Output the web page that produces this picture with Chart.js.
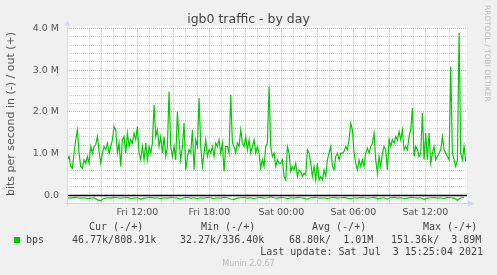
<!DOCTYPE html>
<html>
<head>
<meta charset="utf-8">
<script src="https://cdn.jsdelivr.net/npm/chart.js@4/dist/chart.umd.min.js"></script>
<style>
  html, body { margin: 0; padding: 0; background: #f0f0f0; }
  canvas { display: block; }
</style>
</head>
<body>
<canvas id="grafico" width="497" height="275"></canvas>
<script>
// 1. Datos (en M bits/s)
// out (+): un punto cada 500 s desde Fri 06:10
const outValues = [
  0.85,0.93,0.69,0.65,1.01,1.33,1.57,1.01,0.69,0.65,
  0.85,0.77,0.93,0.77,1.17,1.01,1.17,1.21,1.41,1.05,
  0.77,1.01,1.17,1.09,1.25,1.01,1.17,1.33,1.65,1.57,
  1.01,1.25,0.69,1.33,1.41,1.01,1.49,1.17,1.33,1.25,
  1.49,1.33,1.65,1.01,0.85,1.17,0.85,1.25,0.85,1.17,
  1.01,1.25,2.17,1.41,1.57,1.17,1.41,1.01,1.41,0.93,
  1.17,2.49,1.17,0.93,1.17,0.85,2.01,1.33,0.85,1.17,
  1.73,0.61,0.93,1.09,1.01,1.57,0.61,1.33,1.17,2.33,
  1.17,0.69,1.01,1.33,0.93,1.09,1.01,1.17,0.93,1.25,
  1.17,1.33,1.01,1.25,0.57,1.17,1.17,1.01,2.41,1.25,
  1.17,1.01,1.25,1.17,1.57,1.25,1.17,1.41,1.09,1.33,
  1.01,1.17,1.33,1.01,1.17,1.01,0.65,0.85,0.69,1.17,
  1.25,2.61,1.17,0.93,1.01,0.69,0.85,0.77,0.77,
  0.85,0.45,0.37,1.17,1.01,0.57,0.69,0.61,0.77,0.45,
  0.61,0.57,0.45,0.53,0.49,1.09,1.01,0.77,0.45,0.69,
  0.37,0.77,0.37,0.45,0.37,0.61,0.45,0.85,1.01,1.17,
  0.69,0.61,0.93,1.01,0.85,1.01,1.01,1.05,1.17,1.09,
  1.33,1.73,1.57,1.01,0.77,0.61,0.85,0.69,0.85,0.69,
  1.01,1.13,1.01,1.17,1.25,1.49,0.85,0.53,0.93,0.69,
  1.01,1.17,1.09,0.61,1.33,1.17,1.33,1.25,1.41,1.33,
  1.53,1.33,1.57,1.09,1.17,1.09,1.41,1.57,2.09,0.93,
  1.17,1.09,0.93,1.01,1.97,0.85,1.49,0.85,1.49,0.77,
  1.01,1.17,0.85,0.93,1.01,1.09,1.41,1.09,1.01,0.93,
  0.85,3.09,1.01,0.85,0.69,0.85,3.89,1.01,0.85,1.17,
  0.81
];
// in (-): un punto cada 1000 s desde Fri 06:10
const inValues = [
  -0.06,-0.07,-0.05,-0.06,-0.07,-0.06,-0.08,-0.07,-0.06,-0.11,-0.13,-0.08,-0.06,-0.07,-0.05,-0.06,-0.07,-0.06,-0.05,-0.08,
  -0.07,-0.06,-0.09,-0.07,-0.06,-0.05,-0.07,-0.06,-0.08,-0.06,-0.07,-0.05,-0.06,-0.07,-0.09,-0.06,-0.05,-0.07,-0.06,-0.08,
  -0.06,-0.07,-0.05,-0.06,-0.08,-0.06,-0.07,-0.05,-0.06,-0.09,-0.10,-0.07,-0.06,-0.05,-0.07,-0.06,-0.08,-0.06,-0.05,-0.07,
  -0.06,-0.04,-0.06,-0.07,-0.05,-0.06,-0.08,-0.06,-0.07,-0.05,-0.06,-0.07,-0.09,-0.06,-0.05,-0.06,-0.07,-0.06,-0.08,-0.06,
  -0.05,-0.07,-0.06,-0.05,-0.07,-0.08,-0.06,-0.07,-0.05,-0.06,-0.07,-0.06,-0.05,-0.08,-0.07,-0.06,-0.09,-0.06,-0.05,-0.07,
  -0.06,-0.08,-0.07,-0.05,-0.06,-0.07,-0.06,-0.10,-0.07,-0.06,-0.05,-0.07,-0.06,-0.08,-0.05,-0.06,-0.07,-0.12,-0.06,-0.05
];
const startMin  = 370;       // Fri 06:10 en minutos desde Fri 00:00
const outStep   = 500 / 60;  // minutos
const inStep    = 1000 / 60;

// ejes
const xTickMinutes = [720, 1080, 1440, 1800, 2160];
const xTickLabels  = ['Fri 12:00', 'Fri 18:00', 'Sat 00:00', 'Sat 06:00', 'Sat 12:00'];
const yTickValues  = [0, 1, 2, 3, 4];
const yTickLabels  = ['0.0', '1.0 M', '2.0 M', '3.0 M', '4.0 M'];

// leyenda
const serieName     = 'bps';
const legendHeaders = ['Cur (-/+)', 'Min (-/+)', 'Avg (-/+)', 'Max (-/+)'];
const legendValues  = ['46.77k/808.91k', '32.27k/336.40k', '68.80k/  1.01M', '151.36k/  3.89M'];
const lastUpdate    = 'Last update: Sat Jul  3 15:25:04 2021';
const titulo        = 'igb0 traffic - by day';
const yTitulo       = 'bits per second in (-) / out (+)';
const marcaAgua     = 'RRDTOOL / TOBI OETIKER';
const pie           = 'Munin 2.0.67';

const VERDE = '#00cc00';
const EJE   = '#cfd6f8';
const GRID_MAYOR = 'rgba(240,140,140,0.75)';
const GRID_MENOR = 'rgba(200,200,200,0.8)';

// 2. Puntos para Chart.js
const outData = outValues.map((v, i) => ({ x: startMin + i * outStep, y: v }));
const inData  = inValues.map((v, i) => ({ x: startMin + i * inStep, y: v }));

function texto(ctx, str, x, y, font, color, align) {
  ctx.font = font;
  ctx.fillStyle = color;
  ctx.textAlign = align || 'left';
  ctx.textBaseline = 'middle';
  ctx.fillText(str, x, y);
}

const esEntero = v => Math.abs(v - Math.round(v)) < 1e-6;

// 3. Plugin con el estilo munin (fondo, ejes, textos)
const muninPlugin = {
  id: 'munin',
  beforeDraw(chart) {
    const { ctx, chartArea: a } = chart;
    ctx.save();
    ctx.fillStyle = '#f0f0f0';
    ctx.fillRect(0, 0, chart.width, chart.height);
    ctx.fillStyle = '#ffffff';
    ctx.fillRect(a.left, a.top - 2, a.right - a.left, a.bottom - a.top + 2);
    ctx.restore();
  },
  beforeDatasetsDraw(chart) {
    const { ctx, chartArea: a } = chart;
    const y0 = Math.round(chart.scales.y.getPixelForValue(0)) + 0.5;
    ctx.save();
    ctx.strokeStyle = '#000';
    ctx.lineWidth = 1.3;
    ctx.beginPath();
    ctx.moveTo(a.left, y0);
    ctx.lineTo(a.right, y0);
    ctx.stroke();
    ctx.restore();
  },
  afterDraw(chart) {
    const { ctx, chartArea: a } = chart;
    ctx.save();
    // ejes con flechas
    const xl = Math.round(a.left) + 0.5;
    const yb = Math.round(a.bottom) - 0.5;
    ctx.strokeStyle = EJE;
    ctx.fillStyle = EJE;
    ctx.lineWidth = 1;
    ctx.beginPath();
    ctx.moveTo(xl, yb + 3);
    ctx.lineTo(xl, a.top - 4);
    ctx.moveTo(xl - 3, yb);
    ctx.lineTo(a.right + 2, yb);
    ctx.stroke();
    ctx.beginPath();
    ctx.moveTo(xl - 3, a.top - 3);
    ctx.lineTo(xl + 3, a.top - 3);
    ctx.lineTo(xl, a.top - 8);
    ctx.closePath();
    ctx.fill();
    ctx.beginPath();
    ctx.moveTo(a.right + 1, yb - 3);
    ctx.lineTo(a.right + 1, yb + 3);
    ctx.lineTo(a.right + 7, yb);
    ctx.closePath();
    ctx.fill();

    // título
    texto(ctx, titulo, chart.width / 2, 19.5, '12.5px "DejaVu Sans"', '#444', 'center');

    // título del eje y
    ctx.save();
    ctx.translate(11, 114);
    ctx.rotate(-Math.PI / 2);
    texto(ctx, yTitulo, 0, 0, '11px "DejaVu Sans"', '#555', 'center');
    ctx.restore();

    // marca de agua
    ctx.save();
    ctx.translate(487, 5);
    ctx.rotate(Math.PI / 2);
    texto(ctx, marcaAgua, 0, 0, '7.5px "DejaVu Sans"', '#bbb', 'left');
    ctx.restore();

    // leyenda
    const mono = '10px "DejaVu Sans Mono"';
    const colH = [89, 201, 312, 423];
    const colV = [72, 180, 289, 391];
    legendHeaders.forEach((h, i) => texto(ctx, h, colH[i], 227.5, mono, '#444'));
    ctx.fillStyle = VERDE;
    ctx.fillRect(14, 237, 6, 6);
    texto(ctx, serieName, 26, 240, mono, '#444');
    legendValues.forEach((v, i) => texto(ctx, v, colV[i], 240, mono, '#444'));
    texto(ctx, lastUpdate, 483, 252, mono, '#444', 'right');
    texto(ctx, pie, chart.width / 2, 264, '8px "DejaVu Sans"', '#bbb', 'center');
    ctx.restore();
  }
};

// 4. Gráfico
new Chart(document.getElementById('grafico').getContext('2d'), {
  type: 'line',
  data: {
    datasets: [
      { label: 'in', data: inData, borderColor: VERDE, borderWidth: 1.2, pointRadius: 0, tension: 0 },
      { label: 'out', data: outData, borderColor: VERDE, borderWidth: 1.2, pointRadius: 0, tension: 0 }
    ]
  },
  options: {
    responsive: false,
    animation: false,
    events: [],
    layout: { padding: { top: 28.5, right: 30, left: 0, bottom: 0 } },
    plugins: { legend: { display: false }, tooltip: { enabled: false }, title: { display: false } },
    scales: {
      x: {
        type: 'linear',
        min: 368,
        max: 2368,
        afterFit: s => { s.height = 71.4; },
        afterBuildTicks: s => { s.ticks = s.ticks.filter(t => t.value % 60 === 0); },
        border: { display: false, dash: [1, 1] },
        grid: {
          drawTicks: false,
          lineWidth: 1,
          color: c => (c.tick && c.tick.value % 180 === 0) ? GRID_MAYOR : GRID_MENOR
        },
        ticks: {
          stepSize: 60,
          autoSkip: false,
          maxRotation: 0,
          padding: 3,
          color: '#555',
          font: { family: 'DejaVu Sans', size: 9.5 },
          callback: v => {
            const i = xTickMinutes.indexOf(v);
            return i >= 0 ? xTickLabels[i] : '';
          }
        }
      },
      y: {
        min: -0.2,
        max: 4.0,
        afterFit: s => { s.width = 67; },
        border: { display: false, dash: [1, 1] },
        grid: {
          drawTicks: false,
          lineWidth: 1,
          color: c => {
            const v = c.tick ? c.tick.value : 0;
            if (v < -0.1) return 'rgba(0,0,0,0)';
            return esEntero(v) ? GRID_MAYOR : GRID_MENOR;
          }
        },
        ticks: {
          stepSize: 0.2,
          autoSkip: false,
          padding: 8,
          color: '#555',
          font: { family: 'DejaVu Sans', size: 9.5 },
          callback: v => {
            if (!esEntero(v)) return '';
            const i = yTickValues.indexOf(Math.round(v));
            return i >= 0 ? yTickLabels[i] : '';
          }
        }
      }
    }
  },
  plugins: [muninPlugin]
});
</script>
</body>
</html>
